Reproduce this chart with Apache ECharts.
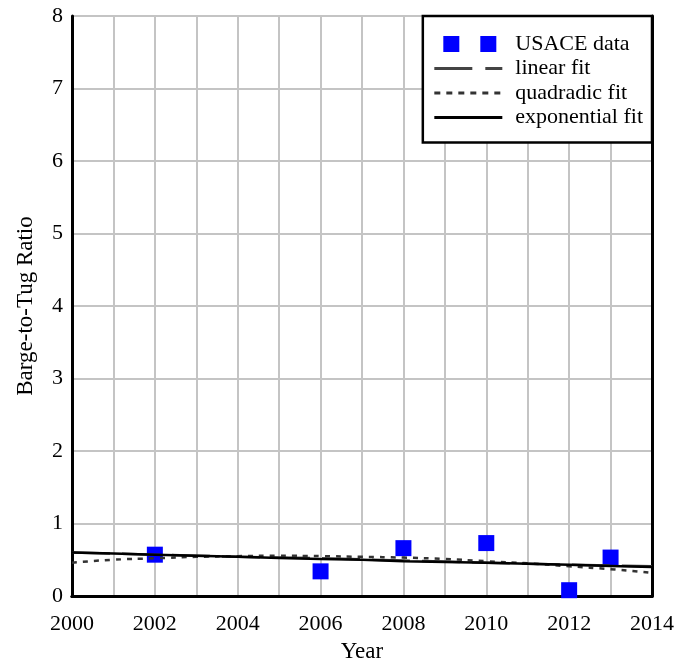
<!DOCTYPE html>
<html>
<head>
<meta charset="utf-8">
<script src="https://cdn.jsdelivr.net/npm/echarts@6/dist/echarts.min.js"></script>
<style>html,body{margin:0;padding:0;background:#fff;}#c{width:677px;height:664px;}</style>
</head>
<body>
<div id="c"></div>
<script>
const dataYears = [2002, 2006, 2008, 2010, 2012, 2013];
const dataValues = [0.57, 0.34, 0.66, 0.73, 0.08, 0.53];
const fitYears = [2000, 2001, 2002, 2003, 2004, 2005, 2006, 2007, 2008, 2009, 2010, 2011, 2012, 2013, 2014];
const linearFit = [0.60, 0.585, 0.57, 0.555, 0.54, 0.53, 0.52, 0.505, 0.49, 0.475, 0.46, 0.445, 0.43, 0.42, 0.41];
const quadFit = [0.46, 0.50, 0.52, 0.54, 0.55, 0.555, 0.55, 0.54, 0.53, 0.51, 0.48, 0.45, 0.41, 0.37, 0.32];
const expFit = [0.60, 0.585, 0.57, 0.555, 0.54, 0.525, 0.51, 0.50, 0.48, 0.47, 0.46, 0.445, 0.43, 0.415, 0.40];
const xTicks = [2000, 2002, 2004, 2006, 2008, 2010, 2012, 2014];
const yTicks = [0, 1, 2, 3, 4, 5, 6, 7, 8];

const font = 'Liberation Serif';
const zip = (a, b) => a.map((v, i) => [v, b[i]]);
const xMin = xTicks[0], xMax = xTicks[xTicks.length - 1];
const yMin = yTicks[0], yMax = yTicks[yTicks.length - 1];
const frameLine = {show: true, lineStyle: {color: '#000', width: 3}};
const frameX = pos => ({type: 'value', min: xMin, max: xMax, position: pos, z: 1,
  axisLine: frameLine, axisTick: {show: false}, axisLabel: {show: false}, splitLine: {show: false}});
const frameY = pos => ({type: 'value', min: yMin, max: yMax, position: pos, z: 1,
  axisLine: frameLine, axisTick: {show: false}, axisLabel: {show: false}, splitLine: {show: false}});

const chart = echarts.init(document.getElementById('c'), null, {renderer: 'canvas'});
chart.setOption({
  animation: false,
  backgroundColor: '#fff',
  textStyle: {fontFamily: font},
  grid: {left: 72, right: 25, top: 16, bottom: 68, containLabel: false, outerBoundsMode: 'none'},
  xAxis: [{
    type: 'value', min: xMin, max: xMax, interval: 1, position: 'bottom', z: 0,
    name: 'Year', nameLocation: 'middle', nameGap: 44,
    nameTextStyle: {fontFamily: font, fontSize: 23, color: '#000'},
    axisLine: {show: false}, axisTick: {show: false},
    axisLabel: {fontFamily: font, fontSize: 22, color: '#000', margin: 17,
      formatter: v => xTicks.includes(v) ? String(v) : ''},
    splitLine: {show: true, lineStyle: {color: '#c4c4c4', width: 2}}
  }, frameX('top'), frameX('bottom')],
  yAxis: [{
    type: 'value', min: yMin, max: yMax, interval: 1, position: 'left', z: 0,
    name: 'Barge-to-Tug Ratio', nameLocation: 'middle', nameGap: 35,
    nameTextStyle: {fontFamily: font, fontSize: 23, color: '#000'},
    axisLine: {show: false}, axisTick: {show: false},
    axisLabel: {fontFamily: font, fontSize: 22, color: '#000', margin: 9},
    splitLine: {show: true, lineStyle: {color: '#c4c4c4', width: 2}}
  }, frameY('right'), frameY('left')],
  legend: {
    orient: 'vertical', right: 25, top: 16, z: 10,
    backgroundColor: '#fff', borderColor: '#000', borderWidth: 2.5,
    padding: [17, 9, 14, 10], itemGap: 2.5, itemWidth: 68, itemHeight: 16,
    itemStyle: {opacity: 0},
    textStyle: {fontFamily: font, fontSize: 22, color: '#000', padding: [0, 0, 0, 8]},
    data: [
      {name: 'USACE data', icon: 'path://M0,0L0,0.01Z M9,0h16v16h-16z M46,0h16v16h-16z M68,16L68,15.99Z',
        itemStyle: {opacity: 1, color: '#0000ff'}},
      {name: 'linear fit', lineStyle: {width: 3, color: '#444', type: [38, 13]}},
      {name: 'quadradic fit', lineStyle: {width: 3, color: '#333', type: [6, 6]}},
      {name: 'exponential fit', lineStyle: {width: 3, color: '#000'}}
    ]
  },
  series: [
    {name: 'USACE data', type: 'scatter', symbol: 'rect', symbolSize: 16, z: 2,
      itemStyle: {color: '#0000ff', opacity: 1, borderRadius: 2}, data: zip(dataYears, dataValues)},
    {name: 'linear fit', type: 'line', symbol: 'none', z: 3,
      lineStyle: {color: '#444', width: 2.5, type: [38, 12]}, data: zip(fitYears, linearFit)},
    {name: 'quadradic fit', type: 'line', symbol: 'none', smooth: true, z: 4,
      lineStyle: {color: '#333', width: 2.5, type: [5, 6]}, data: zip(fitYears, quadFit)},
    {name: 'exponential fit', type: 'line', symbol: 'none', z: 5,
      lineStyle: {color: '#000', width: 2.5}, data: zip(fitYears, expFit)}
  ]
});
</script>
</body>
</html>
